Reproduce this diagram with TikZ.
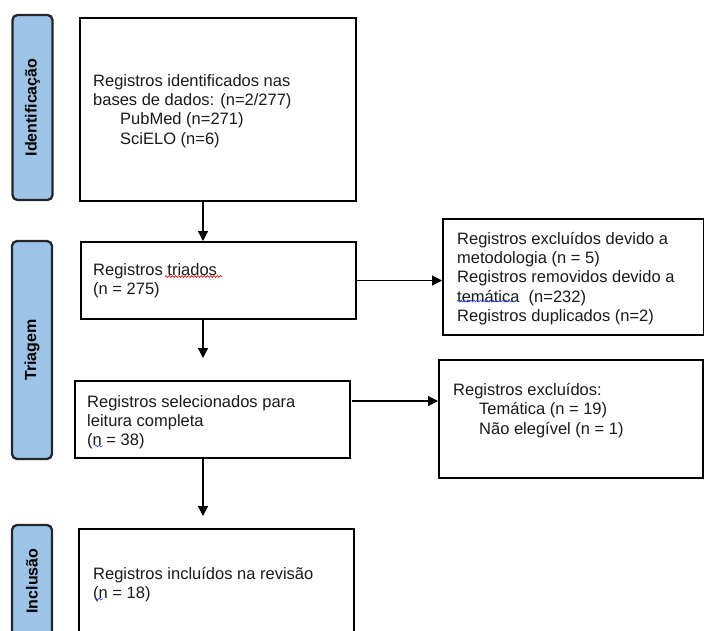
\documentclass[tikz,border=0pt]{standalone}
\usepackage{fontspec}
\setmainfont{Liberation Sans}
\usetikzlibrary{arrows.meta,decorations.pathmorphing}
\definecolor{phasefill}{HTML}{9DC3E6}
\definecolor{phaseline}{HTML}{22262B}
\definecolor{txtcol}{HTML}{1A1A1A}
\definecolor{squigred}{HTML}{E02020}
\definecolor{squigblue}{HTML}{3A5BD9}
\tikzset{
  box/.style={draw=black, line width=2pt, fill=white, anchor=north west, inner sep=0pt},
  txt/.style={anchor=west, align=left, inner sep=0pt, text=txtcol,
    font=\fontsize{16.5}{19.2}\selectfont},
  phase/.style={draw=phaseline, fill=phasefill, line width=2.3pt, rounded corners=5pt,
    rotate=90, inner sep=0pt, minimum height=40pt, text=black,
    font=\bfseries\fontsize{16}{18}\selectfont},
  arr/.style={line width=1.2pt, -{Triangle[length=10pt,width=10pt]}},
  squig/.style={line width=0.7pt, decorate,
    decoration={snake, amplitude=0.9pt, segment length=3.2pt}}
}
\begin{document}
\begin{tikzpicture}[x=1pt,y=-1pt]
\useasboundingbox (0,0) rectangle (704,630);
% phase labels
\node[phase, minimum width=185pt] (p1) at (32.5,107.5) {Identificação};
\node[phase, minimum width=218pt] (p2) at (32,350) {Triagem};
\node[phase, minimum width=112pt] (p3) at (32,581) {Inclusão};
% main boxes
\node[box, minimum width=276pt, minimum height=183pt] (b1) at (79,17) {};
\node[box, minimum width=275pt, minimum height=77pt] (b2) at (80,241) {};
\node[box, minimum width=275pt, minimum height=77pt] (b3) at (74,380) {};
\node[box, minimum width=275pt, minimum height=112pt] (b4) at (78,528) {};
\node[box, minimum width=261pt, minimum height=116pt] (b5) at (442,218) {};
\node[box, minimum width=264pt, minimum height=118pt] (b6) at (438,359) {};
% texts
\node[txt] (t1) at ([xshift=14pt,yshift=-1.5pt]b1.west) {Registros identificados nas\\bases de dados: (n=2/277)\\\hspace*{27pt}PubMed (n=271)\\\hspace*{27pt}SciELO (n=6)};
\node[txt] (t2) at ([xshift=13pt]b2.west) {Registros triados\\(n = 275)};
\node[txt] (t3) at ([xshift=13pt,yshift=-2.5pt]b3.west) {Registros selecionados para\\leitura completa\\(n = 38)};
\node[txt] (t4) at ([xshift=15pt,yshift=0pt]b4.west) {Registros incluídos na revisão\\(n = 18)};
\node[txt] (t5) at ([xshift=15pt,yshift=-1.5pt]b5.west) {Registros excluídos devido a\\metodologia (n = 5)\\Registros removidos devido a\\temática\ \ (n=232)\\Registros duplicados (n=2)};
\node[txt] (t6) at ([xshift=15pt,yshift=8.5pt]b6.west) {Registros excluídos:\\\hspace*{26pt}Temática (n = 19)\\\hspace*{26pt}Não elegível (n = 1)};
% connectors
\coordinate (ax) at (203,0);
\coordinate (e2) at (203,358);
\coordinate (e3) at (203,516);
\coordinate (s6) at (352,401);
\draw[arr] (b1.south -| ax) -- (b2.north -| ax);
\draw[arr] (b2.south -| ax) -- (e2);
\draw[arr] (b3.south -| ax) -- (e3);
\draw[arr] (b2.east) -- (b2.east -| b5.west);
\draw[arr] (s6) -- (s6 -| b6.west);
% spell-check marks
\draw[squig, squigred] (165,276.5) -- (222,276.5);
\draw[squig, squigblue] (457,301) -- (516,301);
\draw[squig, squigblue] (95,446) -- (103,446);
\draw[squig, squigblue] (95,599) -- (103,599);
\end{tikzpicture}
\end{document}
